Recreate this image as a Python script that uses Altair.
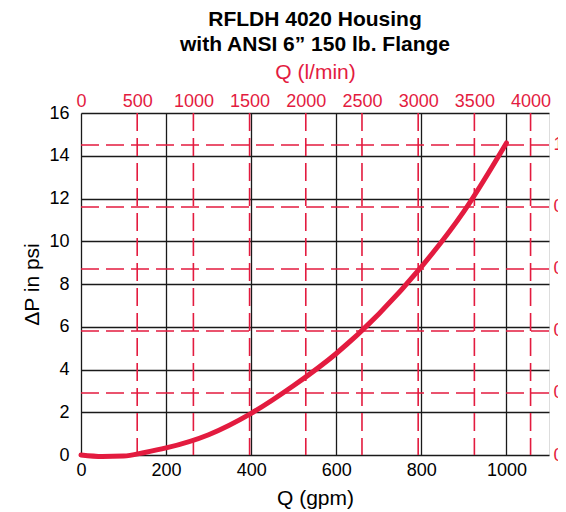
import altair as alt
import pandas as pd

# Curve (gpm -> psi)
gpm = [0, 50, 100, 150, 200, 300, 400, 500, 600, 700, 800, 900, 1000]
psi = [0, -0.07, -0.05, 0.12, 0.33, 0.95, 1.95, 3.25, 4.75, 6.6, 8.8, 11.4, 14.6]

gpm_ticks = [0, 200, 400, 600, 800, 1000]
psi_ticks = [0, 2, 4, 6, 8, 10, 12, 14, 16]
lmin_ticks = [0, 500, 1000, 1500, 2000, 2500, 3000, 3500, 4000]
bar_ticks = [0, 0.2, 0.4, 0.6, 0.8, 1.0]

GPM_MAX = 1100
PSI_MAX = 16
LMIN_PER_GPM = 3.78541
BAR_PER_PSI = 0.0689476

RED = "#E31B3F"
FONT = "Liberation Sans"

df_curve = pd.DataFrame({"gpm": gpm, "psi": psi})
df_lmin = pd.DataFrame({"lmin": lmin_ticks[1:]})
df_bar = pd.DataFrame({"bar": bar_ticks[1:]})

common_axis = dict(domain=False, ticks=False, labelFont=FONT, titleFont=FONT, labelFlush=False,
                   labelFontSize=18, titleFontSize=21, titleFontWeight="normal")

curve = alt.Chart(df_curve).mark_line(
    color=RED, strokeWidth=5, strokeCap="round", interpolate="monotone", clip=False
).encode(
    x=alt.X("gpm:Q", scale=alt.Scale(domain=[0, GPM_MAX], nice=False),
            axis=alt.Axis(orient="bottom", values=gpm_ticks, title="Q (gpm)", format="d",
                          grid=True, gridColor="#1a1a1a", gridWidth=1.3, gridOpacity=1,
                          labelColor="black", titleColor="black",
                          labelPadding=6, titlePadding=8, **common_axis)),
    y=alt.Y("psi:Q", scale=alt.Scale(domain=[0, PSI_MAX], nice=False),
            axis=alt.Axis(orient="left", values=psi_ticks, title="ΔP in psi", format="d",
                          grid=True, gridColor="#1a1a1a", gridWidth=1.3, gridOpacity=1,
                          labelColor="black", titleColor="black",
                          labelPadding=12, titlePadding=6, **common_axis)),
    order=alt.Order("gpm:Q"),
)

vrules = alt.Chart(df_lmin).mark_rule(
    color=RED, strokeWidth=1.6, strokeDash=[18, 7]
).encode(
    x=alt.X("lmin:Q", scale=alt.Scale(domain=[0, GPM_MAX * LMIN_PER_GPM], nice=False),
            axis=alt.Axis(orient="top", values=lmin_ticks, title="Q (l/min)", grid=False, format="d",
                          labelColor=RED, titleColor=RED, labelPadding=3, titlePadding=10,
                          **common_axis)),
)

hrules = alt.Chart(df_bar).mark_rule(
    color=RED, strokeWidth=1.6, strokeDash=[18, 7]
).encode(
    y=alt.Y("bar:Q", scale=alt.Scale(domain=[0, PSI_MAX * BAR_PER_PSI], nice=False),
            axis=alt.Axis(orient="right", values=bar_ticks, title=None, grid=False, format=".1~f",
                          labelColor=RED, labelPadding=4, **common_axis)),
)

chart = alt.layer(vrules, hrules, curve).resolve_scale(
    x="independent", y="independent"
).properties(
    width=468,
    height=342,
    autosize=alt.AutoSizeParams(type="none"),
    padding={"left": 73, "top": 105, "right": 9, "bottom": 57},
    title=alt.TitleParams(
        ["RFLDH 4020 Housing", "with ANSI 6\u201d 150 lb. Flange"],
        font=FONT, fontSize=21, fontWeight="bold", color="black",
        anchor="middle", lineHeight=25, offset=6,
    ),
).configure_view(
    stroke="black", strokeWidth=3
).configure(background="white")

chart.save("out.html", embed_options={"renderer": "svg", "actions": False})
